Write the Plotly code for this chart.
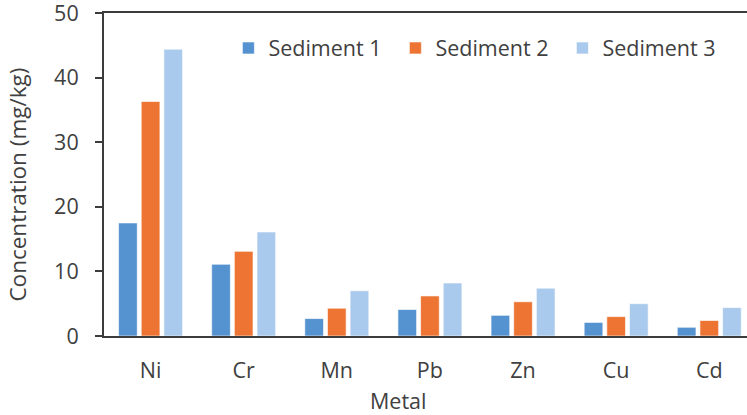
import plotly.graph_objects as go

metals = ["Ni", "Cr", "Mn", "Pb", "Zn", "Cu", "Cd"]
sediment1 = [17.5, 11.1, 2.7, 4.1, 3.2, 2.1, 1.35]
sediment2 = [36.3, 13.1, 4.3, 6.2, 5.3, 3.0, 2.4]
sediment3 = [44.4, 16.1, 7.0, 8.2, 7.4, 5.0, 4.4]
series_names = ["Sediment 1", "Sediment 2", "Sediment 3"]
y_ticks = [0, 10, 20, 30, 40, 50]
colors = ["#5592D0", "#ED7433", "#A9CAEC"]

W, H = 747, 415
ml, mr, mt, mb = 103.5, 0, 13, 79
pw = W - ml - mr
ph = H - mt - mb
font_family = "Open Sans"
txt_color = "#404040"
axis_color = "#3C3C3C"
fs = 21.5

fig = go.Figure()
for name, vals, col in zip(series_names, [sediment1, sediment2, sediment3], colors):
    fig.add_trace(go.Bar(
        x=metals, y=vals, name=name,
        marker=dict(color=col, line=dict(color="rgba(255,255,255,0.6)", width=1)),
    ))

def pxx(px):
    return (px - ml) / pw

def pxy(py_from_top):
    return (H - py_from_top - mb) / ph

fig.update_layout(
    width=W, height=H,
    margin=dict(l=ml, r=mr, t=mt, b=mb, autoexpand=False),
    paper_bgcolor="white", plot_bgcolor="white",
    font=dict(family=font_family, size=fs, color=txt_color),
    barmode="group", bargap=0.27, bargroupgap=0.176,
    showlegend=True,
    legend=dict(
        orientation="h", x=pxx(228), xanchor="left",
        y=pxy(48), yanchor="middle",
        entrywidth=122, entrywidthmode="pixels",
        font=dict(size=fs, color=txt_color, family=font_family),
        itemwidth=30, bgcolor="rgba(0,0,0,0)", tracegroupgap=0,
    ),
    xaxis=dict(
        range=[-0.5, 6.405], showline=True, linecolor=axis_color, linewidth=2,
        mirror=True, ticks="", showgrid=False, zeroline=False,
        tickfont=dict(size=fs, color=txt_color), ticklabelstandoff=14,
    ),
    yaxis=dict(
        range=[0, 50], tickmode="array", tickvals=y_ticks,
        ticktext=[str(v) for v in y_ticks],
        showline=True, linecolor=axis_color, linewidth=2,
        ticks="outside", ticklen=7, tickwidth=2, tickcolor=axis_color,
        showgrid=False, zeroline=False, ticklabeloverflow="allow",
        tickfont=dict(size=fs, color=txt_color), ticklabelstandoff=12,
    ),
    annotations=[
        dict(text="Metal", x=pxx(398), y=pxy(400.5), xref="paper", yref="paper",
             xanchor="center", yanchor="middle",
             showarrow=False, font=dict(size=fs, color=txt_color)),
        dict(text="Concentration (mg/kg)", x=pxx(17), y=pxy(185), xref="paper", yref="paper",
             xanchor="center", yanchor="middle",
             textangle=-90, showarrow=False, font=dict(size=22.5, color=txt_color)),
    ],
)

fig.write_html(
    "out.html",
    config={"displayModeBar": False},
    post_script="document.body.style.margin='0';document.body.style.padding='0';document.body.style.overflow='hidden';",
)
